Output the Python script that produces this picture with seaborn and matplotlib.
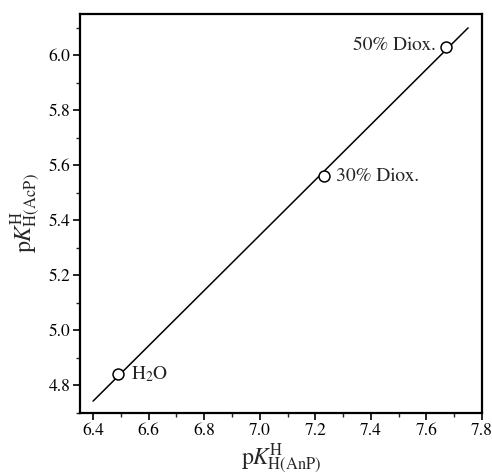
import numpy as np
import pandas as pd
import matplotlib
matplotlib.use("Agg")
import matplotlib.pyplot as plt
import seaborn as sns
from matplotlib.ticker import MultipleLocator

# data
solvents = ["H$_2$O", "30% Diox.", "50% Diox."]
pk_anp = [6.49, 7.23, 7.67]
pk_acp = [4.84, 5.56, 6.03]
fit_range = [6.40, 7.75]
x_ticks = [6.4, 6.6, 6.8, 7.0, 7.2, 7.4, 7.6, 7.8]
y_ticks = [4.8, 5.0, 5.2, 5.4, 5.6, 5.8, 6.0]

sns.set_theme(style="ticks")
serif = "FreeSerif"
plt.rcParams["font.family"] = [serif, "Liberation Serif", "DejaVu Serif"]
plt.rcParams["mathtext.fontset"] = "custom"
plt.rcParams["mathtext.rm"] = serif
plt.rcParams["mathtext.it"] = serif + ":italic"
plt.rcParams["mathtext.bf"] = serif + ":bold"

df = pd.DataFrame({"anp": pk_anp, "acp": pk_acp, "solvent": solvents})

# least squares line through the three points
slope, intercept = np.polyfit(df["anp"], df["acp"], 1)
fit_df = pd.DataFrame({"x": fit_range})
fit_df["y"] = slope * fit_df["x"] + intercept

fig = plt.figure(figsize=(4.92, 4.75), dpi=100)
ax = fig.add_axes([80 / 492, 62 / 475, 402 / 492, 399 / 475])

sns.lineplot(data=fit_df, x="x", y="y", color="black", linewidth=1.1, ax=ax)
sns.scatterplot(data=df, x="anp", y="acp", s=62, facecolor="white",
                edgecolor="black", linewidth=1.1, zorder=3, ax=ax)

# point labels
offsets = {"H$_2$O": (9, 0, "left"), "30% Diox.": (9, 0, "left"),
           "50% Diox.": (-7, 1, "right")}
for _, row in df.iterrows():
    dx, dy, ha = offsets[row["solvent"]]
    ax.annotate(row["solvent"], (row["anp"], row["acp"]), xytext=(dx, dy),
                textcoords="offset points", ha=ha, va="center", fontsize=14)

ax.set_xlim(6.353, 7.8)
ax.set_ylim(4.70, 6.15)
ax.set_xticks(x_ticks)
ax.set_xticklabels([f"{v:.1f}" for v in x_ticks])
ax.set_yticks(y_ticks)
ax.set_yticklabels([f"{v:.1f}" for v in y_ticks])
ax.xaxis.set_minor_locator(MultipleLocator(0.1))
ax.yaxis.set_minor_locator(MultipleLocator(0.1))

ax.tick_params(which="major", direction="out", length=5, width=1.2,
               labelsize=12.5, colors="black", pad=2)
ax.tick_params(which="minor", direction="out", length=3, width=1.0)
ax.tick_params(top=False, right=False, which="both")

for side in ["left", "bottom", "top", "right"]:
    ax.spines[side].set_visible(True)
    ax.spines[side].set_color("black")
    ax.spines[side].set_linewidth(1.6)

ax.set_xlabel(r"p$\mathit{K}^{\rm H}_{\rm H(AnP)}$", fontsize=17, labelpad=2)
ax.set_ylabel(r"p$\mathit{K}^{\rm H}_{\rm H(AcP)}$", fontsize=17, labelpad=4)

fig.savefig("out.png", dpi=100, facecolor="white")
